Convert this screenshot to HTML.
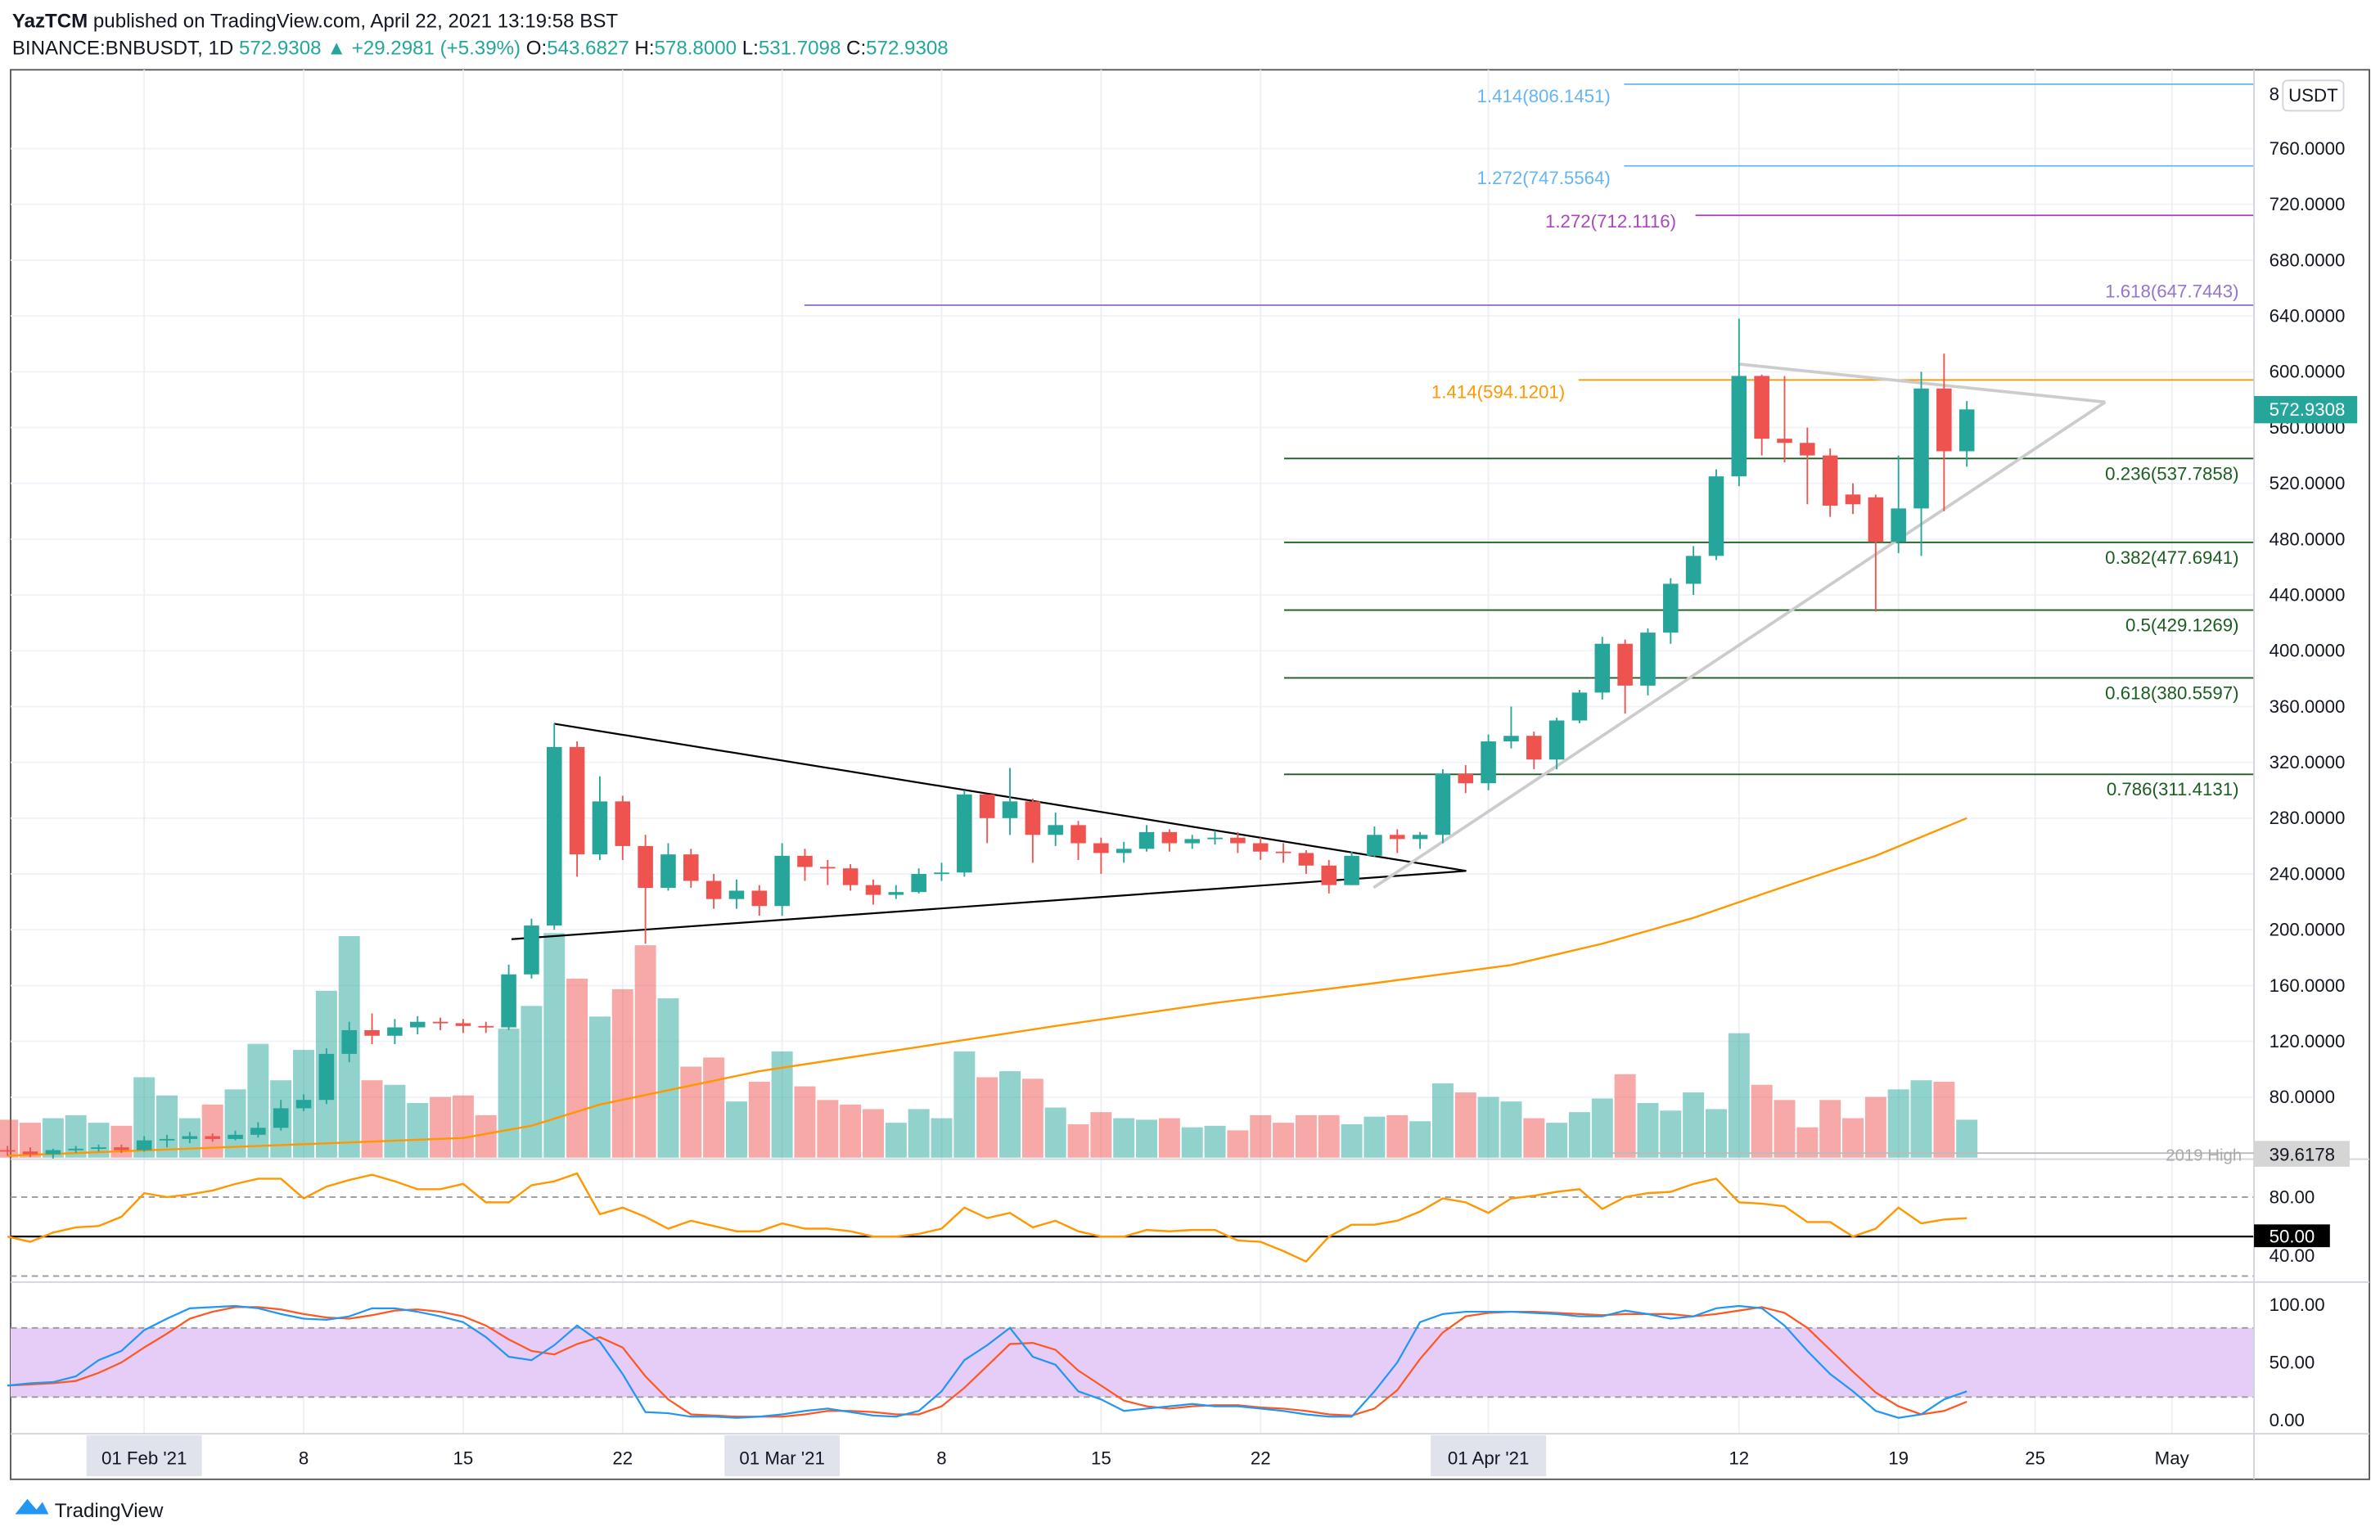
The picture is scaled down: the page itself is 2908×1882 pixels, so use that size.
<!DOCTYPE html>
<html><head><meta charset="utf-8"><style>
html,body{margin:0;padding:0;background:#fff;}
svg{display:block;font-family:"Liberation Sans",sans-serif;}
</style></head><body>
<svg id="chart" xmlns="http://www.w3.org/2000/svg" width="2908" height="1882" viewBox="0 0 1568 1015" preserveAspectRatio="none">
<rect x="0" y="0" width="1568" height="1015" fill="#fff"/>
<text x="8" y="18" font-size="13" fill="#131722"><tspan font-weight="bold">YazTCM</tspan> published on TradingView.com, April 22, 2021 13:19:58 BST</text>
<text x="8" y="36" font-size="13" fill="#131722">BINANCE:BNBUSDT, 1D <tspan fill="#26a69a">572.9308 ▲ +29.2981 (+5.39%)</tspan> O:<tspan fill="#26a69a">543.6827</tspan> H:<tspan fill="#26a69a">578.8000</tspan> L:<tspan fill="#26a69a">531.7098</tspan> C:<tspan fill="#26a69a">572.9308</tspan></text>
<rect x="7" y="46" width="1554" height="929" fill="none" stroke="#555" stroke-width="1"/>
<g id="grid"></g>
<g id="panels"></g>
<g id="main"></g>
<g id="axes"></g>
<g>
<path d="M10 998 L18 988 L24 995 L28 990 L32 998 Z" fill="#2196f3"/>
<text x="36" y="1000" font-size="13" fill="#131722">TradingView</text>
</g>
</svg>
<script>
// ---- data (day index from Feb 1 2021, first = Jan 26) ----
const startDay = -6;
const opens  = [42,41,39,42,43,44,42,49,50,52,
                50,53,58,72,78,111,128,124,130,134,
                133,131,130,168,203,331,254,292,260,230,
                254,235,222,228,217,253,245,244,232,225,
                227,240,241,297,280,292,268,275,262,255,
                258,270,262,265,266,262,256,255,246,232,
                253,268,265,268,312,305,335,339,322,350,
                370,405,375,413,448,468,525,597,552,549,
                540,512,510,478,502,588,543];
const closes = [41,39,42,43,44,42,49,50,52,50,
                53,58,72,78,111,128,124,130,134,133,
                131,130,168,203,331,254,292,260,230,254,
                235,222,228,217,253,245,244,232,225,227,
                240,241,297,280,292,268,275,262,255,258,
                270,262,265,266,262,256,255,246,232,253,
                268,265,268,312,305,335,339,322,350,370,
                405,375,413,448,468,525,597,552,549,540,
                504,505,478,502,588,543,573];
const highs  = [45,44,43,45,46,46,52,53,55,54,
                56,62,78,82,115,134,140,136,138,137,
                136,134,175,208,348,335,310,296,268,262,
                258,240,236,232,262,258,250,247,236,232,
                244,248,300,297,316,294,284,278,266,263,
                275,272,268,271,270,266,262,257,250,256,
                274,272,270,315,318,340,360,342,352,372,
                410,408,416,452,475,530,638,598,597,560,
                545,520,512,540,600,613,579];
const lows   = [38,37,36,40,41,40,41,44,47,48,
                49,51,56,70,75,105,118,118,125,128,
                126,126,128,165,200,238,250,250,190,228,
                230,215,215,210,210,235,232,228,218,222,
                226,235,238,262,268,248,260,250,240,248,
                256,256,258,261,255,250,248,240,226,232,
                252,255,258,262,298,300,330,315,315,348,
                365,355,368,405,440,465,518,540,535,505,
                496,498,428,470,468,500,532];
const volumes= [25,23,26,28,23,21,53,41,26,35,
                45,75,51,71,110,146,51,48,36,40,
                41,28,85,100,148,118,93,111,140,105,
                60,66,37,50,70,47,38,35,32,23,
                32,26,70,53,57,52,33,22,30,26,
                25,26,20,21,18,28,23,28,28,22,
                27,28,24,49,43,40,37,26,23,30,
                39,55,36,31,43,32,82,48,38,20,
                38,26,40,45,51,50,25];
const maDays = [-6,14,17,20,27,34,40,47,54,60,64,68,72,76,80];
const maVals = [38,50.7,59.5,74.7,98.6,116,131,147.5,161.7,174.7,190,208.5,231,253,280];
const rsiVals= [50,46,53,57,58,65,83,80,82,85,90,94,94,79,88,93,97,92,86,86,90,76,76,89,92,98,67,72,65,56,62,58,54,54,60,56,56,54,50,50,52,56,72,64,68,57,62,54,50,50,55,54,55,55,47,46,39,31,50,59,59,62,69,79,76,68,79,81,84,86,71,80,83,84,90,94,76,75,73,61,61,50,56,72,60,63,64];
const stochK = [30,32,33,38,52,60,78,88,97,98,99,97,92,88,87,90,97,97,94,90,85,72,55,52,65,82,68,40,7,6,3,3,2,3,5,8,10,7,4,3,8,25,52,65,80,55,48,25,18,8,10,12,14,12,12,10,8,5,3,3,25,50,85,92,94,94,94,93,92,90,90,95,92,88,90,97,99,97,82,60,40,25,8,2,5,18,25];
const stochD = [30,31,32,34,41,50,63,75,88,94,98,98,96,92,89,88,91,95,96,94,90,82,70,60,57,66,72,63,38,18,5,4,3,3,3,5,8,8,7,5,5,12,28,47,66,67,61,43,30,17,12,10,12,13,13,11,10,8,5,4,10,26,53,76,90,93,94,94,93,92,91,92,92,92,90,92,95,98,93,80,61,42,24,12,5,8,16];
const priceTicks = [80,120,160,200,240,280,320,360,400,440,480,520,560,600,640,680,720,760];
const rsiTicks = [80];
const stochTicks = [100,50,0];
const dateTickDays = [0,7,14,21,28,35,42,49,59,70,77,83,89];
const dateTickLabels = ["01 Feb '21","8","15","22","01 Mar '21","8","15","22","01 Apr '21","12","19","25","May"];
const fibPrices = [806.1451,747.5564,712.1116,647.7443,594.1201,537.7858,477.6941,429.1269,380.5597,311.4131];
const fibLabels = ["1.414","1.272","1.272","1.618","1.414","0.236","0.382","0.5","0.618","0.786"];

// ---- scales ----
const NS="http://www.w3.org/2000/svg";
const xD = d => 95 + d*15.01;
const yP = p => 576 - (p-240)*0.9194;
const yV = v => 763 - v;
const yR = r => 815 - (r-50)*0.867;
const yS = s => 936 - s*0.76;
function mk(parent, tag, attrs){const e=document.createElementNS(NS,tag);for(const k in attrs)e.setAttribute(k,attrs[k]);document.getElementById(parent).appendChild(e);return e;}
function txt(parent, x,y,s,attrs){const e=mk(parent,'text',Object.assign({x:x,y:y},attrs));e.textContent=s;return e;}
const GREEN="#26a69a", RED="#ef5350";

priceTicks.forEach(p=>{const l=mk('grid','line',{x1:7,x2:1485,y1:yP(p),y2:yP(p),stroke:"#f0f3fa","stroke-width":1});

});
dateTickDays.forEach(d=>{const l=mk('grid','line',{x1:xD(d),x2:xD(d),y1:46,y2:945,stroke:"#eceff4","stroke-width":1});

});

[[764],[845]].forEach(a=>{const l=mk('panels','line',{x1:7,x2:1561,y1:a[0],y2:a[0],stroke:"#d1d4dc","stroke-width":1});

});
let band=mk('panels','rect',{x:7,y:yS(80),width:1478,height:yS(20)-yS(80),fill:"#e6cdf7"});


[yS(80),yS(20),yR(80),yR(20)].forEach(y=>{const l=mk('panels','line',{x1:7,x2:1485,y1:y,y2:y,stroke:"#9a9a9a","stroke-dasharray":"4,3","stroke-width":1});

});
let mid=mk('panels','line',{x1:7,x2:1485,y1:yR(50),y2:yR(50),stroke:"#000","stroke-width":1.2});



volumes.forEach((v,i)=>{const d=startDay+i;const up=closes[i]>=opens[i];
const r=mk('main','rect',{x:xD(d)-7,y:yV(v),width:14,height:v,fill:up?"rgba(38,166,154,0.5)":"rgba(239,83,80,0.5)"});

});

let maPts=maDays.map((d,i)=>xD(d)+","+yP(maVals[i])).join(" ");
let ma=mk('main','polyline',{points:maPts,fill:"none",stroke:"#ff9800","stroke-width":1.3});



const fibCfg=[["#64b5f6",1070,973,12,"start"],["#64b5f6",1070,973,12,"start"],["#ab47bc",1117,1018,8,"start"],["#9575cd",530,1475,-5,"end"],["#ff9800",1040,943,12,"start"],["#1b5e20",846,1475,14,"end"],["#1b5e20",846,1475,14,"end"],["#1b5e20",846,1475,14,"end"],["#1b5e20",846,1475,14,"end"],["#1b5e20",846,1475,14,"end"]];
fibPrices.forEach((p,i)=>{const c=fibCfg[i];const y=yP(p);
const l=mk('main','line',{x1:c[1],x2:1485,y1:y,y2:y,stroke:c[0],"stroke-width":1});


const t=txt('main',c[2],y+c[3],fibLabels[i]+"("+p.toFixed(4)+")",{"font-size":12,fill:c[0],"text-anchor":c[4]});

});

[[365,477,966,574,"#000"],[337,619,966,574,"#000"],[1146,240,1387,265,"#ccc"],[905,585,1387,265,"#ccc"]].forEach(a=>{
const l=mk('main','line',{x1:a[0],y1:a[1],x2:a[2],y2:a[3],stroke:a[4],"stroke-width":a[4]==="#000"?1.2:2});

});

opens.forEach((o,i)=>{const d=startDay+i;const c=closes[i];const up=c>=o;const col=up?GREEN:RED;const x=xD(d);
const w=mk('main','line',{x1:x,x2:x,y1:yP(highs[i]),y2:yP(lows[i]),stroke:col,"stroke-width":1});


const top=yP(Math.max(o,c)),bot=yP(Math.min(o,c));
const b=mk('main','rect',{x:x-5,y:top,width:10,height:Math.max(1,bot-top),fill:col});

});

let rp=rsiVals.map((r,i)=>xD(startDay+i)+","+yR(r)).join(" ");
let rl=mk('main','polyline',{points:rp,fill:"none",stroke:"#ff9800","stroke-width":1.3});


let kp=stochK.map((s,i)=>xD(startDay+i)+","+yS(s)).join(" ");
let dp=stochD.map((s,i)=>xD(startDay+i)+","+yS(s)).join(" ");
let dl=mk('main','polyline',{points:dp,fill:"none",stroke:"#ff5722","stroke-width":1.2});


let kl=mk('main','polyline',{points:kp,fill:"none",stroke:"#2196f3","stroke-width":1.2});



let ax=mk('axes','line',{x1:1485,x2:1485,y1:46,y2:975,stroke:"#d1d4dc","stroke-width":1});


let tb=mk('axes','line',{x1:7,x2:1561,y1:945,y2:945,stroke:"#d1d4dc","stroke-width":1});


priceTicks.forEach(p=>{const t=txt('axes',1495,yP(p)+4,p.toFixed(4),{"font-size":12,fill:"#131722"});

});
let t8=txt('axes',1495,66,"8",{"font-size":12,fill:"#131722"});


let ub=mk('axes','rect',{x:1504,y:53,width:40,height:20,rx:3,fill:"#fff",stroke:"#d1d4dc"});


let ut=txt('axes',1524,67,"USDT",{"font-size":12,fill:"#131722","text-anchor":"middle"});


let pt=mk('axes','rect',{x:1485,y:261,width:68,height:18,fill:GREEN});


let ptt=txt('axes',1495,274,"572.9308",{"font-size":12,fill:"#fff"});


let hl=mk('axes','line',{x1:1060,x2:1485,y1:760,y2:760,stroke:"#bbb"});


let hlt=txt('axes',1477,765,"2019 High",{"font-size":11,fill:"#aaa","text-anchor":"end"});


let hb=mk('axes','rect',{x:1485,y:752,width:63,height:17,fill:"#d5d5d5"});


let hbt=txt('axes',1495,765,"39.6178",{"font-size":12,fill:"#131722"});


rsiTicks.forEach(r=>{const t=txt('axes',1495,yR(r)+4,r.toFixed(2),{"font-size":12,fill:"#131722"});

});
let r40=txt('axes',1495,yR(40)+8,"40.00",{"font-size":12,fill:"#131722"});


let rb=mk('axes','rect',{x:1485,y:yR(50)-8,width:50,height:15,fill:"#000"});


let rbt=txt('axes',1495,yR(50)+4,"50.00",{"font-size":12,fill:"#fff"});


stochTicks.forEach(s=>{const t=txt('axes',1495,yS(s)+4,s.toFixed(2),{"font-size":12,fill:"#131722"});

});
dateTickDays.forEach((d,i)=>{const lab=dateTickLabels[i];const x=xD(d);
if(lab.length>4){const b=mk('axes','rect',{x:x-38,y:946,width:76,height:27,fill:"#e0e3eb"});

}
const t=txt('axes',x,965,lab,{"font-size":12,fill:"#131722","text-anchor":"middle"});

});
</script>
</body></html>
